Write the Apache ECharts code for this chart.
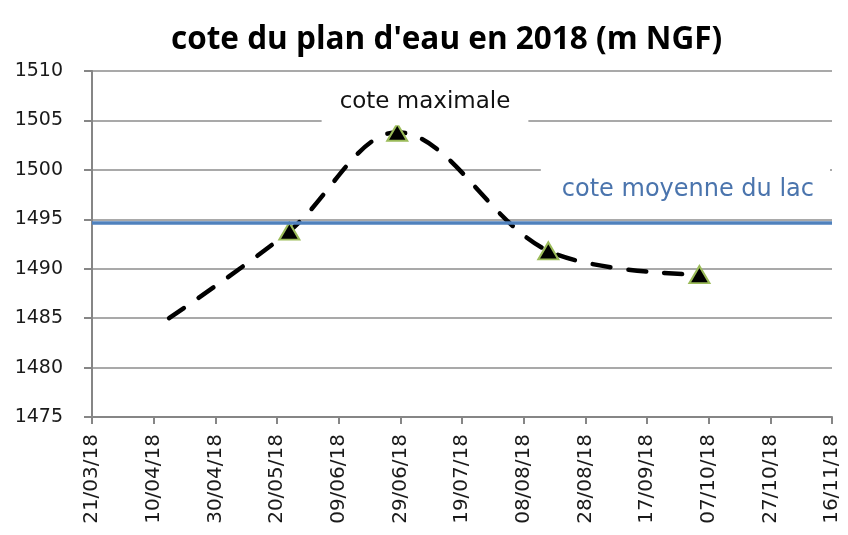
<!DOCTYPE html>
<html>
<head>
<meta charset="utf-8">
<script src="https://cdn.jsdelivr.net/npm/echarts@6/dist/echarts.min.js"></script>
<style>
  html, body { margin: 0; padding: 0; background: #fff; }
  #main { width: 848px; height: 535px; }
</style>
</head>
<body>
<div id="main"></div>
<script>
// dates de mesure et cote du plan d'eau (m NGF)
var dates = ['2018-04-15', '2018-05-24', '2018-06-28', '2018-08-16', '2018-10-04'];
var cotes = [1485, 1493.8, 1503.8, 1491.8, 1489.4];
var marqueurs = [false, true, true, true, true];
var coteMoyenne = 1494.7;

var debut = '2018-03-21';
var fin = '2018-11-16';
var pasJours = 20;
var yTicks = [1475, 1510, 5];

var DAY = 86400000;
function jours(d) {
  return Math.round((Date.parse(d + 'T00:00:00Z') - Date.parse(debut + 'T00:00:00Z')) / DAY);
}
function etiquette(v) {
  var d = new Date(Date.parse(debut + 'T00:00:00Z') + v * DAY);
  var dd = ('0' + d.getUTCDate()).slice(-2);
  var mm = ('0' + (d.getUTCMonth() + 1)).slice(-2);
  var yy = String(d.getUTCFullYear()).slice(-2);
  return dd + '/' + mm + '/' + yy;
}

var serie = dates.map(function (d, i) {
  var item = { value: [jours(d), cotes[i]] };
  if (!marqueurs[i]) item.symbol = 'none';
  return item;
});

var myChart = echarts.init(document.getElementById('main'));

myChart.setOption({
  animation: false,
  title: {
    text: "cote du plan d'eau en 2018 (m NGF)",
    left: 171,
    top: 24,
    padding: 0,
    textStyle: {
      fontFamily: 'Open Sans',
      fontWeight: 'bold',
      fontSize: 31.5,
      color: '#000'
    }
  },
  grid: { left: 92, right: 16, top: 71, bottom: 118 },
  xAxis: {
    type: 'value',
    min: 0,
    max: jours(fin),
    interval: pasJours,
    axisLine: { lineStyle: { color: '#868686', width: 2 } },
    axisTick: { show: true, length: 7, lineStyle: { color: '#868686', width: 2 } },
    splitLine: { show: false },
    axisLabel: {
      rotate: 90,
      margin: 17,
      fontFamily: 'DejaVu Sans',
      fontSize: 20,
      color: '#1a1a1a',
      formatter: etiquette
    }
  },
  yAxis: {
    type: 'value',
    min: yTicks[0],
    max: yTicks[1],
    interval: yTicks[2],
    axisLine: { show: true, lineStyle: { color: '#868686', width: 2 } },
    axisTick: { show: true, length: 8, lineStyle: { color: '#868686', width: 2 } },
    splitLine: { lineStyle: { color: '#8c8c8c', width: 1.5 } },
    axisLabel: {
      margin: 29,
      fontFamily: 'DejaVu Sans',
      fontSize: 19,
      color: '#1a1a1a',
      formatter: function (v) { return String(v); }
    }
  },
  series: [
    {
      type: 'line',
      data: serie,
      smooth: 0.35,
      symbol: 'triangle',
      symbolSize: [20, 17],
      itemStyle: { color: '#000', borderColor: '#9bbb59', borderWidth: 2 },
      lineStyle: { color: '#000', width: 4.5, type: [18, 18], cap: 'round' },
      markLine: {
        silent: true,
        symbol: 'none',
        lineStyle: { color: '#4f81bd', width: 3.5, type: 'solid' },
        label: {
          show: true,
          position: 'insideEndTop',
          formatter: 'cote moyenne du lac',
          fontFamily: 'DejaVu Sans',
          fontSize: 24,
          color: '#4a74ad',
          backgroundColor: '#fff',
          padding: [12, 16, 8, 21],
          distance: [2, 12]
        },
        data: [{ yAxis: coteMoyenne }]
      },
      markPoint: {
        silent: true,
        symbol: 'rect',
        symbolSize: 0,
        label: {
          show: true,
          position: 'inside',
          formatter: 'cote maximale',
          fontFamily: 'DejaVu Sans',
          fontSize: 23,
          color: '#111',
          backgroundColor: '#fff',
          padding: [12, 18, 12, 18]
        },
        data: [{ coord: [108, 1506.9] }]
      }
    }
  ]
});
</script>
</body>
</html>
